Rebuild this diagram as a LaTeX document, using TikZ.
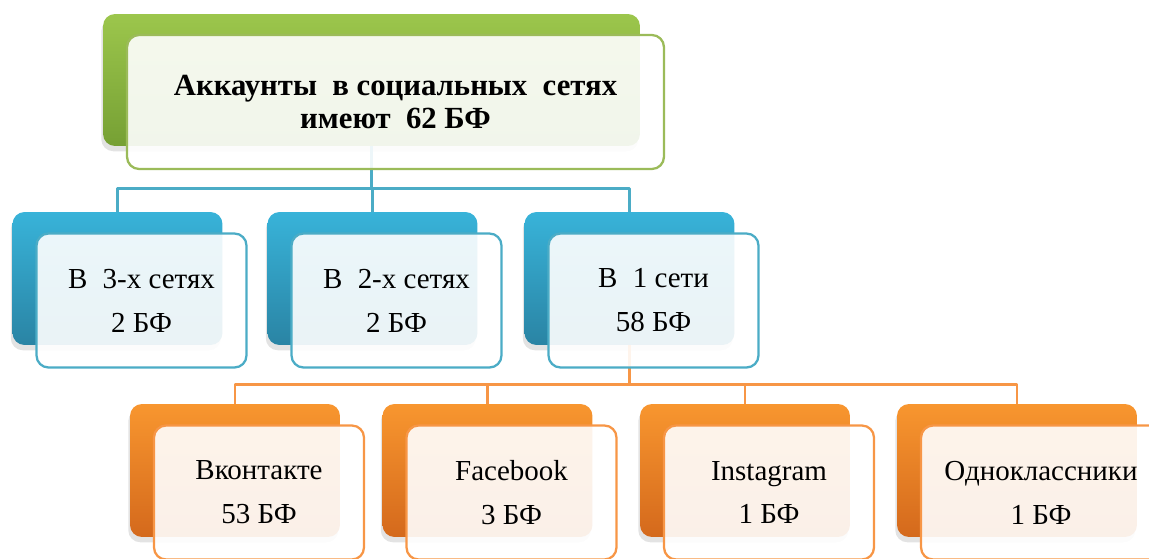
\documentclass[tikz,border=0pt]{standalone}
\usepackage{fontspec}
\setmainfont{Liberation Serif}
\newfontfamily\tnr{Liberation Serif}
\usetikzlibrary{shadows}
\definecolor{grnA}{HTML}{9CC64C}
\definecolor{grnB}{HTML}{76A034}
\definecolor{grnL}{HTML}{9BBB59}
\definecolor{bluA}{HTML}{38B3D9}
\definecolor{bluB}{HTML}{2A84A4}
\definecolor{bluL}{HTML}{4BACC6}
\definecolor{orgA}{HTML}{F8962F}
\definecolor{orgB}{HTML}{D4691C}
\definecolor{orgL}{HTML}{F79646}
\begin{document}
\begin{tikzpicture}[x=0.02cm,y=-0.02cm,line join=round,
back/.style={rounded corners=0.24cm,minimum width=4.2cm,minimum height=2.66cm,
  drop shadow={shadow xshift=-1pt,shadow yshift=-3pt,opacity=0.22}},
front/.style={rounded corners=0.24cm,minimum width=4.2cm,minimum height=2.68cm,
  line width=1.3pt,fill=white,fill opacity=0.9,text opacity=1,align=center,
  font=\tnr\fontsize{16.5}{25}\selectfont},
link/.style={line width=1.5pt}]
\useasboundingbox(0,0)rectangle(1149,558);
% back boxes
\node[back,top color=grnA,bottom color=grnB,minimum width=10.74cm,minimum height=2.64cm](top)at(371.5,80){};
\foreach \n/\x in{b1/117.5,b2/372.5,b3/629.5}
\node[back,top color=bluA,bottom color=bluB](\n)at(\x,278.5){};
\foreach \n/\x/\w in{o1/235/4.2cm,o2/487.5/4.2cm,o3/745/4.2cm,o4/1017/4.8cm}
\node[back,top color=orgA,bottom color=orgB,minimum width=\w](\n)at(\x,470.5){};
% connectors
\foreach \n in{b1,b2,b3}
\draw[link,bluL](top.south)--++(0,42)-|(\n.north);
\foreach \n in{o1,o2,o3,o4}
\draw[link,orgL](b3.south)--++(0,39)-|(\n.north);
% front boxes
\node[front,draw=grnL,minimum width=10.74cm,font=\tnr\fontsize{17.5}{19}\selectfont\bfseries,shift={(24,22)}](ttl)at(top)
{Аккаунты\ \ в социальных\ \ сетях\\имеют\ \ 62 БФ};
\foreach \n/\t in{b1/{В\; 3-х сетях\\2 БФ},b2/{В\; 2-х сетях\\2 БФ},b3/{В\; 1 сети\\58 БФ}}
\node[front,draw=bluL,shift={(24,22)}](f\n)at(\n){\t};
\foreach \n/\w/\t in{o1/4.2cm/{Вконтакте\\53 БФ},o2/4.2cm/{Facebook\\3 БФ},o3/4.2cm/{Instagram\\1 БФ},o4/4.8cm/{Одноклассники\\1 БФ}}
\node[front,draw=orgL,minimum width=\w,shift={(24,22)}](f\n)at(\n){\t};
\end{tikzpicture}
\end{document}
